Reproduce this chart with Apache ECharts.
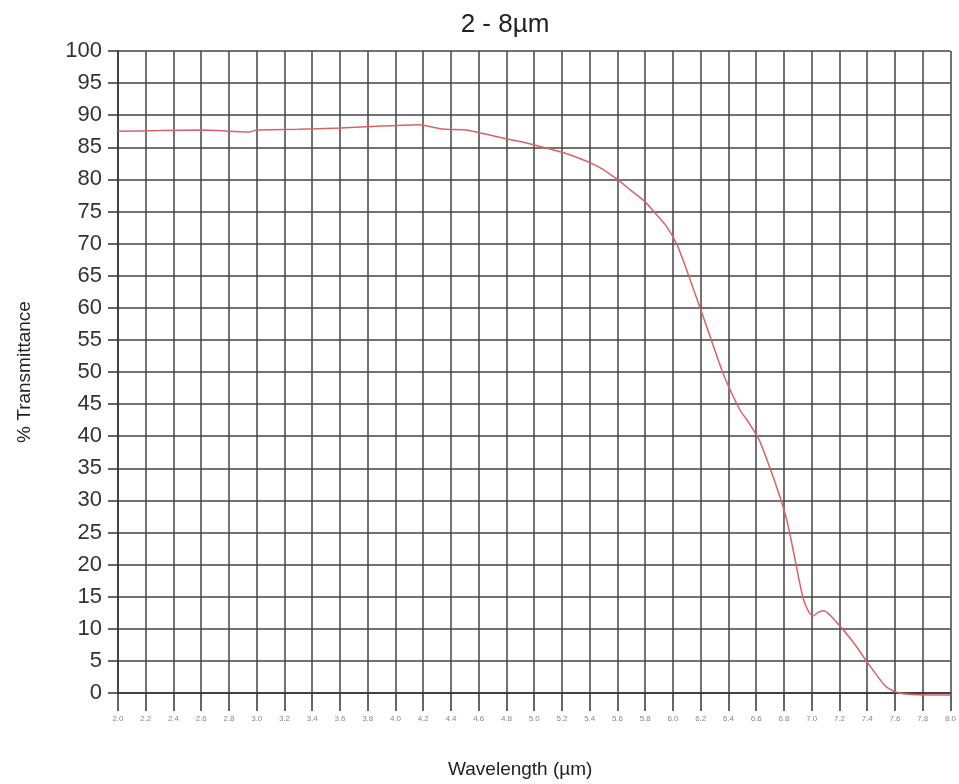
<!DOCTYPE html>
<html><head><meta charset="utf-8">
<script src="https://cdn.jsdelivr.net/npm/echarts@6/dist/echarts.min.js"></script>
<style>html,body{margin:0;padding:0;background:#fff}#c{width:959px;height:784px}</style>
</head><body><div id="c"></div>
<script>
const wavelength = [2.0,2.3,2.6,2.95,3.0,3.3,3.6,3.9,4.17,4.3,4.36,4.51,4.74,4.9,5.03,5.22,5.46,5.6,5.69,5.8,5.87,5.95,6.03,6.10,6.22,6.3,6.37,6.48,6.55,6.62,6.7,6.77,6.82,6.87,6.91,6.94,6.98,7.01,7.05,7.09,7.18,7.30,7.41,7.53,7.6,7.70,7.85,8.0];
const transmittance = [87.5,87.6,87.7,87.4,87.7,87.8,88.0,88.3,88.5,88.0,87.8,87.7,86.6,85.9,85.2,84.1,82.0,80.0,78.4,76.5,74.8,72.8,69.8,65.8,58.5,53.5,49.3,44.2,42.0,39.5,35.0,30.6,27.0,21.9,17.5,14.6,12.6,12.0,12.6,12.8,11.0,7.9,4.5,1.1,0.2,-0.2,-0.3,-0.3];
const yTicks = {min:0,max:100,step:5};
const xTicks = {min:2,max:8,step:0.2};
const titleText = '2 - 8µm';
const xName = 'Wavelength (µm)';
const yName = '% Transmittance';

const chart = echarts.init(document.getElementById('c'));
chart.setOption({
  animation:false,
  backgroundColor:'#fff',
  title:{text:titleText,left:500,top:7,textAlign:'center',textStyle:{fontFamily:'Liberation Sans',fontSize:26,fontWeight:'normal',color:'#222'}},
  grid:{left:118,right:4,top:51,bottom:90},
  xAxis:{type:'value',min:xTicks.min,max:xTicks.max,interval:xTicks.step,
    name:xName,nameLocation:'middle',nameGap:67,
    nameTextStyle:{fontFamily:'Liberation Sans',fontSize:19,color:'#222',padding:[0,28,0,0]},
    axisLine:{lineStyle:{color:'#333',width:1.5}},
    axisTick:{length:18,lineStyle:{color:'#333',width:1.5}},
    axisLabel:{formatter:v=>v.toFixed(1),fontSize:8,color:'#888',margin:22,fontFamily:'Liberation Sans'},
    splitLine:{show:true,lineStyle:{color:'#444',width:1.5}}},
  yAxis:{type:'value',min:yTicks.min,max:yTicks.max,interval:yTicks.step,
    name:yName,nameLocation:'middle',nameGap:84,
    nameTextStyle:{fontFamily:'Liberation Sans',fontSize:19,color:'#222'},
    axisLine:{show:true,lineStyle:{color:'#333',width:1.5}},
    axisTick:{show:true,length:10,lineStyle:{color:'#333',width:1.5}},
    axisLabel:{fontSize:22,color:'#333',margin:16,fontFamily:'Liberation Sans'},
    splitLine:{show:true,lineStyle:{color:'#444',width:1.5}}},
  series:[{type:'line',data:wavelength.map((x,i)=>[x,transmittance[i]]),
    smooth:0.2,symbol:'none',clip:false,lineStyle:{color:'#d9626a',width:1.5}}]
});
</script></body></html>
